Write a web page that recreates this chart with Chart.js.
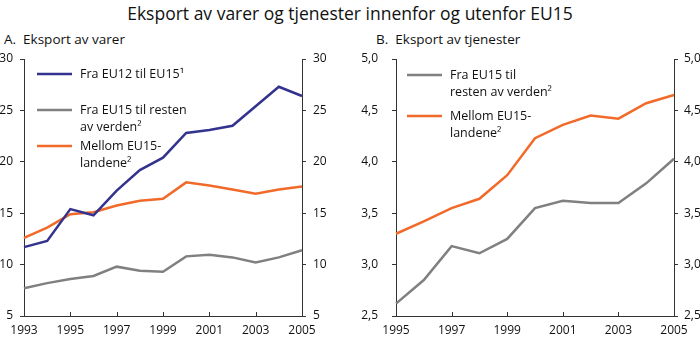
<!DOCTYPE html>
<html>
<head>
<meta charset="utf-8">
<script src="https://cdn.jsdelivr.net/npm/chart.js@4"></script>
<style>
  body { margin: 0; background: #fff; font-family: "Open Sans", sans-serif; }
  #wrap { position: relative; width: 700px; height: 343px; overflow: hidden; }
  .title { position: absolute; left: 0; top: 1px; width: 700px; text-align: center; font-size: 17.5px; color: #111; }
  .sub { position: absolute; top: 30px; font-size: 13.5px; color: #111; }
  canvas { position: absolute; top: 0; }
</style>
</head>
<body>
<div id="wrap">
  <div class="title">Eksport av varer og tjenester innenfor og utenfor EU15</div>
  <div class="sub" style="left:4px">A.&nbsp; Eksport av varer</div>
  <div class="sub" style="left:376px">B.&nbsp; Eksport av tjenester</div>
  <div style="position:absolute;left:0;top:0;width:350px;height:343px"><canvas id="chartA"></canvas></div>
  <div style="position:absolute;left:350px;top:0;width:350px;height:343px"><canvas id="chartB"></canvas></div>
</div>
<script>
// Panel A: goods exports, 1993-2005
var yearsA = [1993, 1994, 1995, 1996, 1997, 1998, 1999, 2000, 2001, 2002, 2003, 2004, 2005];
var eu12ToEu15 = [11.7, 12.3, 15.4, 14.8, 17.2, 19.2, 20.4, 22.8, 23.1, 23.5, 25.4, 27.3, 26.4];
var eu15ToRestA = [7.7, 8.2, 8.6, 8.9, 9.8, 9.4, 9.3, 10.8, 10.95, 10.7, 10.2, 10.7, 11.4];
var withinEu15A = [12.6, 13.6, 14.9, 15.1, 15.75, 16.2, 16.4, 18.0, 17.7, 17.3, 16.9, 17.3, 17.6];

// Panel B: services exports, 1995-2005
var yearsB = [1995, 1996, 1997, 1998, 1999, 2000, 2001, 2002, 2003, 2004, 2005];
var eu15ToRestB = [2.62, 2.85, 3.18, 3.11, 3.25, 3.55, 3.62, 3.60, 3.60, 3.79, 4.03];
var withinEu15B = [3.30, 3.42, 3.55, 3.64, 3.87, 4.23, 4.36, 4.45, 4.42, 4.57, 4.65];

var BLUE = '#33338f';
var GREY = '#808080';
var ORANGE = '#f26a2a';
var AXIS = '#333';
var FONT = '"Open Sans", sans-serif';

var legendA = [
    { color: BLUE, lines: ['Fra EU12 til EU15\u00b9'] },
    { color: GREY, lines: ['Fra EU15 til resten', 'av verden\u00b2'] },
    { color: ORANGE, lines: ['Mellom EU15-', 'landene\u00b2'] }
];
var legendB = [
    { color: GREY, lines: ['Fra EU15 til', 'resten av verden\u00b2'] },
    { color: ORANGE, lines: ['Mellom EU15-', 'landene\u00b2'] }
];

// legend drawn as text inside the plot, like the original
var boxLegend = {
    id: 'boxLegend',
    afterDraw: function(chart, args, opts) {
        var ctx = chart.ctx;
        var area = chart.chartArea;
        var x0 = area.left + opts.left;
        var y = area.top + opts.top;
        ctx.save();
        ctx.font = '12.5px ' + FONT;
        ctx.textBaseline = 'middle';
        ctx.fillStyle = '#111';
        opts.items.forEach(function(item) {
            ctx.strokeStyle = item.color;
            ctx.lineWidth = 2.5;
            ctx.beginPath();
            ctx.moveTo(x0, y);
            ctx.lineTo(x0 + 35, y);
            ctx.stroke();
            item.lines.forEach(function(txt, i) {
                ctx.fillText(txt, x0 + 43, y + i * 17);
            });
            y += opts.gap;
        });
        ctx.restore();
    }
};

// small tick marks pointing up from the x axis at labelled years
var innerTicks = {
    id: 'innerTicks',
    afterDraw: function(chart) {
        var xs = chart.scales.x;
        var ctx = chart.ctx;
        ctx.save();
        ctx.strokeStyle = AXIS;
        ctx.lineWidth = 1;
        xs.ticks.forEach(function(t, i) {
            var yr = chart.data.labels[i];
            if (yr % 2 == 1) {
                var px = Math.round(xs.getPixelForTick(i)) + 0.5;
                ctx.beginPath();
                ctx.moveTo(px, xs.top);
                ctx.lineTo(px, xs.top - 4);
                ctx.stroke();
            }
        });
        ctx.restore();
    }
};

function yAxis(pos, min, max, step, width, pad, fmt) {
    return {
        position: pos,
        min: min,
        max: max,
        afterFit: function(s) { s.width = width; },
        grid: { drawOnChartArea: false, tickLength: 4, color: AXIS },
        border: { display: true, color: AXIS, width: 1 },
        ticks: {
            stepSize: step,
            padding: pad,
            color: '#111',
            font: { family: FONT, size: 12 },
            callback: fmt
        }
    };
}

function makeChart(id, years, sets, yMin, yMax, step, leftW, rightW, leftPad, rightPad, fmt, legend) {
    var ctx = document.getElementById(id).getContext('2d');
    return new Chart(ctx, {
        type: 'line',
        data: {
            labels: years,
            datasets: sets.map(function(s) {
                return {
                    label: s.label,
                    data: s.data,
                    borderColor: s.color,
                    borderWidth: 2.5,
                    pointRadius: 0,
                    tension: 0,
                    fill: false,
                    yAxisID: 'y'
                };
            })
        },
        options: {
            responsive: true,
            maintainAspectRatio: false,
            animation: false,
            layout: { padding: { top: 59, left: 0, right: 0, bottom: 0 } },
            plugins: {
                legend: { display: false },
                tooltip: { enabled: false },
                boxLegend: legend
            },
            scales: {
                x: {
                    afterFit: function(s) { s.height = 27; },
                    grid: { drawOnChartArea: false, drawTicks: false, color: AXIS },
                    border: { display: true, color: AXIS, width: 1 },
                    ticks: {
                        autoSkip: false,
                        maxRotation: 0,
                        padding: 7,
                        color: '#111',
                        font: { family: FONT, size: 12 },
                        callback: function(v, i) {
                            var yr = this.chart.data.labels[i];
                            return yr % 2 == 1 ? String(yr) : '';
                        }
                    }
                },
                y: yAxis('left', yMin, yMax, step, leftW, leftPad, fmt),
                y2: yAxis('right', yMin, yMax, step, rightW, rightPad, fmt)
            }
        },
        plugins: [boxLegend, innerTicks]
    });
}

makeChart('chartA', yearsA, [
    { label: 'Fra EU12 til EU15', data: eu12ToEu15, color: BLUE },
    { label: 'Fra EU15 til resten av verden', data: eu15ToRestA, color: GREY },
    { label: 'Mellom EU15-landene', data: withinEu15A, color: ORANGE }
], 5, 30, 5, 24, 48, 7, 7, function(v) { return String(v); },
   { items: legendA, left: 13, top: 15, gap: 36 });

makeChart('chartB', yearsB, [
    { label: 'Fra EU15 til resten av verden', data: eu15ToRestB, color: GREY },
    { label: 'Mellom EU15-landene', data: withinEu15B, color: ORANGE }
], 2.5, 5.0, 0.5, 46, 26, 14, 6, function(v) { return v.toFixed(1).replace('.', ','); },
   { items: legendB, left: 11, top: 16, gap: 41 });
</script>
</body>
</html>
